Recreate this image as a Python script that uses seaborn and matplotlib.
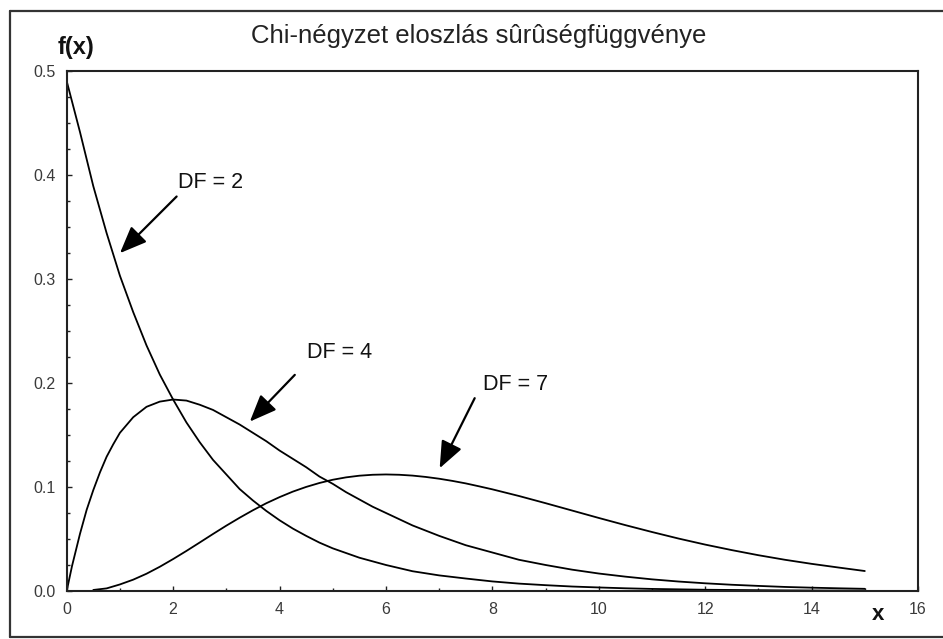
import matplotlib
matplotlib.use("Agg")
import matplotlib.pyplot as plt
from matplotlib.lines import Line2D
from matplotlib.ticker import MultipleLocator, FixedLocator, FixedFormatter
import seaborn as sns

# ---- data ----
x_df2 = [0, 0.25, 0.5, 0.75, 1, 1.25, 1.5, 1.75, 2, 2.25, 2.5, 2.75, 3, 3.25, 3.5,
         3.75, 4, 4.25, 4.5, 4.75, 5, 5.5, 6, 6.5, 7, 7.5,
         8, 8.5, 9, 9.5, 10, 10.5, 11, 11.5, 12, 12.5, 13, 13.5, 14, 14.5, 15]
y_df2 = [0.490, 0.441, 0.389, 0.344, 0.303, 0.268, 0.236, 0.208, 0.184, 0.162, 0.143,
         0.126, 0.112, 0.098, 0.087, 0.077, 0.068, 0.060, 0.053, 0.0465,
         0.041, 0.032, 0.025, 0.019, 0.015, 0.012, 0.0092, 0.0071, 0.0056,
         0.0043, 0.0034, 0.0026, 0.0020, 0.0016, 0.0012, 0.0010, 0.0008, 0.0006,
         0.0005, 0.0004, 0.0003]

x_df4 = [0, 0.05, 0.1, 0.25, 0.375, 0.5, 0.625, 0.75, 0.875, 1, 1.25, 1.5, 1.75, 2,
         2.25, 2.5, 2.75, 3, 3.25, 3.5, 3.75, 4, 4.25, 4.5, 4.75, 5, 5.25, 5.5, 5.75,
         6, 6.25, 6.5, 6.75, 7,
         7.5, 8, 8.5, 9, 9.5, 10, 10.5, 11, 11.5, 12, 12.5, 13, 13.5, 14, 14.5, 15]
y_df4 = [0.0, 0.012, 0.024, 0.055, 0.078, 0.097, 0.114, 0.129, 0.141, 0.152, 0.167,
         0.177, 0.182, 0.184, 0.183, 0.179, 0.174, 0.167, 0.160, 0.152, 0.144,
         0.135, 0.127, 0.119, 0.110, 0.103, 0.095, 0.088, 0.081, 0.075, 0.069,
         0.063, 0.058, 0.053, 0.044, 0.037, 0.030, 0.025,
         0.0205, 0.0168, 0.0138, 0.0112, 0.0091, 0.0074, 0.0060, 0.0049, 0.0039,
         0.0032, 0.0026, 0.0021]

x_df7 = [0.5, 0.75, 1, 1.25, 1.5, 1.75, 2, 2.25, 2.5, 2.75, 3, 3.25, 3.5, 3.75, 4,
         4.25, 4.5, 4.75, 5, 5.25, 5.5, 5.75, 6, 6.25, 6.5, 6.75, 7, 7.25, 7.5, 7.75,
         8, 8.5, 9, 9.5, 10, 10.5, 11, 11.5, 12, 12.5, 13, 13.5, 14, 14.5, 15]
y_df7 = [0.001, 0.0025, 0.0063, 0.0109, 0.0166, 0.0233, 0.0307, 0.0385, 0.0466,
         0.0548, 0.0628, 0.0704, 0.0776, 0.0843, 0.0902, 0.0955, 0.1000, 0.1038,
         0.1069, 0.1092, 0.1108, 0.1117, 0.1120, 0.1117, 0.1109, 0.1096, 0.1079,
         0.1058, 0.1034, 0.1006, 0.0977, 0.0913,
         0.0844, 0.0773, 0.0702, 0.0633, 0.0567, 0.0504, 0.0446, 0.0393, 0.0344,
         0.0300, 0.0261, 0.0226, 0.0192]

series_labels = ["DF = 2", "DF = 4", "DF = 7"]
x_ticks = [0, 2, 4, 6, 8, 10, 12, 14, 16]
x_tick_labels = ["0", "2", "4", "6", "8", "10", "12", "14", "16"]
y_ticks = [0.0, 0.1, 0.2, 0.3, 0.4, 0.5]
y_tick_labels = ["0.0", "0.1", "0.2", "0.3", "0.4", "0.5"]
title = "Chi-négyzet eloszlás sûrûségfüggvénye"

sns.set_theme(style="ticks")
plt.rcParams["font.family"] = ["Liberation Sans", "DejaVu Sans"]

W, H = 943, 639
fig = plt.figure(figsize=(W / 100, H / 100), dpi=100)
fig.patch.set_facecolor("white")
ax = fig.add_axes([66.7 / W, 1 - 591 / H, (918 - 66.7) / W, (591 - 70.7) / H])

for xs, ys in [(x_df2, y_df2), (x_df4, y_df4), (x_df7, y_df7)]:
    sns.lineplot(x=xs, y=ys, ax=ax, color="black", linewidth=1.3, sort=False)

ax.set_xlim(0, 16)
ax.set_ylim(0, 0.5)
ax.xaxis.set_major_locator(FixedLocator(x_ticks))
ax.xaxis.set_major_formatter(FixedFormatter(x_tick_labels))
ax.yaxis.set_major_locator(FixedLocator(y_ticks))
ax.yaxis.set_major_formatter(FixedFormatter(y_tick_labels))
ax.xaxis.set_minor_locator(MultipleLocator(1))
ax.yaxis.set_minor_locator(MultipleLocator(0.025))
ax.tick_params(which="both", direction="in", top=False, right=False,
               colors="#222222", labelcolor="#3a3a3a", labelsize=11.5)
ax.tick_params(which="major", length=3.5, width=1.0)
ax.tick_params(which="minor", length=2.2, width=1.0)
ax.tick_params(axis="y", which="major", pad=8)
ax.tick_params(axis="x", which="major", pad=8)
for sp in ax.spines.values():
    sp.set_visible(True)
    sp.set_linewidth(1.5)
    sp.set_color("#222222")
ax.set_xlabel("")
ax.set_ylabel("")
ax.grid(False)

# annotations
label_pos = [(2.09, 0.3872), (4.507, 0.2238), (7.823, 0.1933)]
arrow_tail = [(2.066, 0.3791), (4.287, 0.2077), (7.668, 0.1853)]
arrow_tip = [(1.001, 0.3247), (3.442, 0.1628), (7.010, 0.1180)]
for lab, lp, tail, tip in zip(series_labels, label_pos, arrow_tail, arrow_tip):
    ax.text(lp[0], lp[1], lab, fontsize=15.5, color="#111111", ha="left", va="baseline")
    ax.annotate("", xy=tip, xytext=tail,
                arrowprops=dict(arrowstyle="-|>,head_length=1.1,head_width=0.45",
                                mutation_scale=15, color="black", lw=1.6,
                                shrinkA=0, shrinkB=0))

fig.text(478.5 / W, 1 - 43 / H, title, fontsize=18.5, ha="center", va="baseline",
         color="#222222")
fig.text(58 / W, 1 - 54 / H, "f(x)", fontsize=17, fontweight="bold", ha="left",
         va="baseline", color="#111111")
fig.text(871.7 / W, 1 - 620 / H, "x", fontsize=16, fontweight="bold", ha="left",
         va="baseline", color="#111111")

# outer frame
fx0, fy_top, fy_bot, fx1 = 9.5 / W, 1 - 11 / H, 1 - 637 / H, 960 / W
for xs, ys in [([fx0, fx0], [fy_bot, fy_top]), ([fx0, fx1], [fy_top, fy_top]),
               ([fx0, fx1], [fy_bot, fy_bot])]:
    fig.add_artist(Line2D(xs, ys, transform=fig.transFigure, color="#333333", lw=1.6))

fig.savefig("out.png", dpi=100)
